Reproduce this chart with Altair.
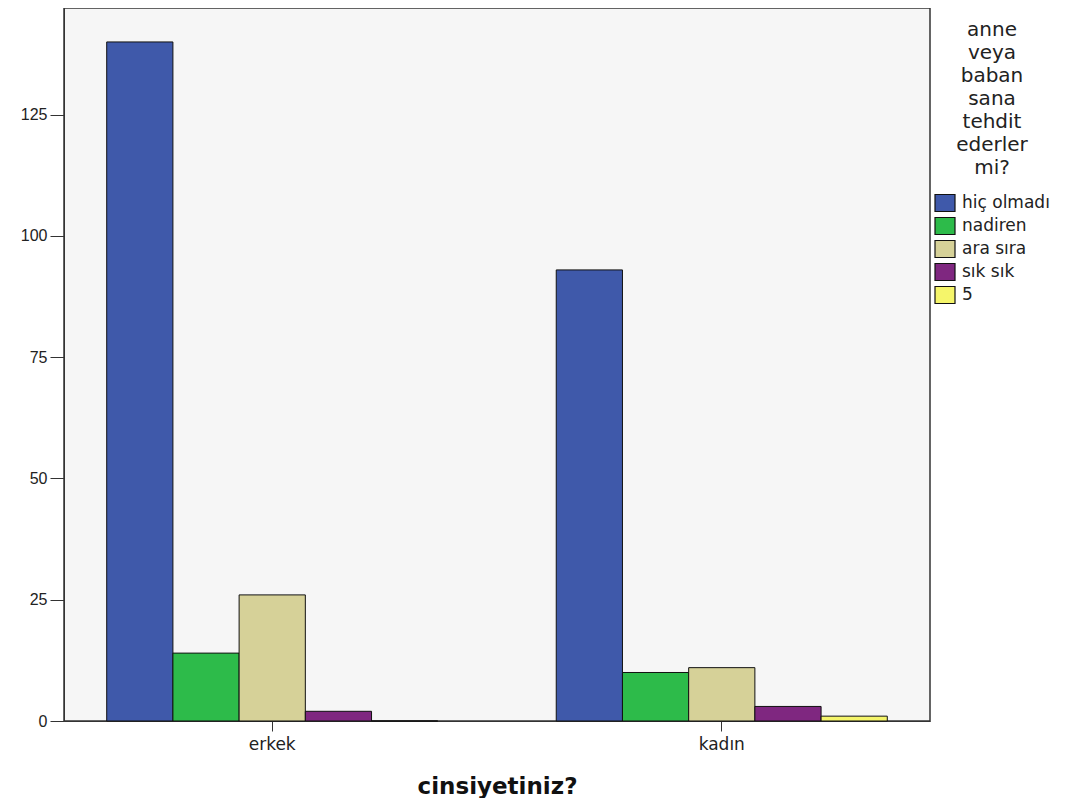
import altair as alt
import pandas as pd

genders = ["erkek", "kadın"]
categories = ["hiç olmadı", "nadiren", "ara sıra", "sık sık", "5"]
erkek_values = [140, 14, 26, 2, 0]
kadin_values = [93, 10, 11, 3, 1]
colors = ["#3f59aa", "#2dbb4a", "#d6d198", "#7f2780", "#f5f56a"]
legend_title = ["anne", "veya", "baban", "sana", "tehdit", "ederler", "mi?"]
y_ticks = [0, 25, 50, 75, 100, 125]

rows = []
for g, vals in zip(genders, [erkek_values, kadin_values]):
    for c, v in zip(categories, vals):
        rows.append({"gender": g, "cat": c, "count": v})
df = pd.DataFrame(rows)

FONT = "Liberation Sans"
WIDE = "DejaVu Sans"

chart = alt.Chart(df).mark_bar(stroke="#111111", strokeWidth=1).encode(
    x=alt.X("gender:N", sort=genders,
            scale=alt.Scale(paddingInner=0.2636, paddingOuter=0.095),
            axis=alt.Axis(title="cinsiyetiniz?", labelAngle=0, labelFontSize=17,
                          labelColor="#222222", labelFont=WIDE, tickSize=10,
                          tickColor="#333333", domainColor="#333333", labelPadding=5,
                          titleFontSize=23, titleFontWeight="bold", titleFont=WIDE,
                          titleColor="#111111", titlePadding=23)),
    xOffset=alt.XOffset("cat:N", sort=categories,
                        scale=alt.Scale(paddingInner=0, paddingOuter=0)),
    y=alt.Y("count:Q", scale=alt.Scale(domain=[0, 147], nice=False),
            axis=alt.Axis(title=None, values=y_ticks, grid=False, tickSize=14,
                          labelFontSize=16, labelFont=FONT, labelColor="#222222",
                          tickColor="#333333", domainColor="#333333", labelPadding=3,
                          minExtent=56, maxExtent=56)),
    color=alt.Color("cat:N", sort=categories,
                    scale=alt.Scale(domain=categories, range=colors),
                    legend=alt.Legend(title=legend_title, titleAlign="center",
                                      titleAnchor="middle", titleFontSize=20,
                                      titleFontWeight="normal", titleFont=WIDE,
                                      titleColor="#222222", titleLineHeight=23,
                                      titleLimit=300, titlePadding=14,
                                      symbolType="M-1,-0.85H1V0.85H-1Z", symbolSize=400,
                                      symbolStrokeColor="#111111", symbolStrokeWidth=1.2,
                                      labelFontSize=17, labelFont=WIDE, labelColor="#222222",
                                      labelOffset=6, rowPadding=1, padding=0,
                                      labelLimit=200, orient="none",
                                      legendX=870, legendY=12)),
).properties(
    width=866, height=713,
    padding={"left": 0, "top": 0, "right": 0, "bottom": 0},
).configure(
    background="white"
).configure_view(
    fill="#f6f6f6", stroke="#333333", strokeWidth=1.5
)

chart.save("out.html", embed_options={"renderer": "svg", "actions": False})
